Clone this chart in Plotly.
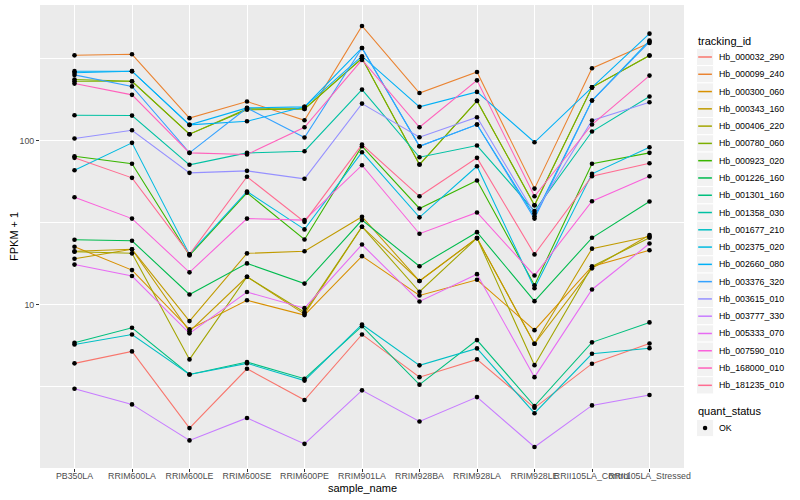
import plotly.graph_objects as go

samples = ["PB350LA", "RRIM600LA", "RRIM600LE", "RRIM600SE", "RRIM600PE", "RRIM901LA",
           "RRIM928BA", "RRIM928LA", "RRIM928LE", "RRII105LA_Control", "RRII105LA_Stressed"]

tracking_ids = ["Hb_000032_290", "Hb_000099_240", "Hb_000300_060", "Hb_000343_160", "Hb_000406_220",
                "Hb_000780_060", "Hb_000923_020", "Hb_001226_160", "Hb_001301_160", "Hb_001358_030",
                "Hb_001677_210", "Hb_002375_020", "Hb_002660_080", "Hb_003376_320", "Hb_003615_010",
                "Hb_003777_330", "Hb_005333_070", "Hb_007590_010", "Hb_168000_010", "Hb_181235_010"]

colors = ["#F8766D", "#EA8331", "#D89000", "#C09B00", "#A3A500", "#7CAE00", "#39B600", "#00BB4E",
          "#00BF7D", "#00C1A3", "#00BFC4", "#00BAE0", "#00B0F6", "#35A2FF", "#9590FF", "#C77CFF",
          "#E76BF3", "#FA62DB", "#FF62BC", "#FF6C91"]

quant_levels = ["OK"]

# FPKM + 1 values per sample (order of `samples`)
hb_000032_290 = [4.37, 5.17, 1.76, 4.05, 2.61, 6.56, 3.60, 4.62, 2.34, 4.35, 5.78]
hb_000099_240 = [331, 336, 137, 173, 133, 500, 195, 262, 50.9, 276, 394]
hb_000300_060 = [22.5, 16.2, 7.04, 10.6, 8.61, 19.7, 11.35, 14.15, 6.97, 17.05, 21.4]
hb_000343_160 = [21.1, 21.7, 7.91, 20.5, 21.1, 34.3, 13.9, 25.4, 5.76, 21.9, 26.0]
hb_000343_160_b = [19.0, 21.7, 6.84, 14.75, 8.73, 29.8, 13.9, 25.4, 5.76, 16.6, 26.5]
hb_000406_220 = [20.96, 20.5, 4.62, 14.75, 8.97, 29.8, 11.95, 25.4, 4.26, 17.05, 25.5]
hb_000780_060 = [235.5, 230, 109.3, 156, 156, 317.6, 71.4, 174.6, 40.3, 211, 330]
hb_000780_060_b = [230, 230, 109.3, 154, 156, 317.6, 71.4, 174.6, 40.3, 211, 330]
hb_000923_020 = [80.2, 72.1, 19.9, 48.0, 24.9, 92.3, 38.5, 57.0, 13.1, 72.1, 84.1]
hb_001226_160 = [24.8, 24.45, 11.5, 17.8, 13.4, 32.7, 17.1, 27.6, 10.47, 25.5, 42.5]
hb_001301_160 = [5.84, 7.21, 3.74, 4.45, 3.52, 7.37, 3.24, 6.06, 2.40, 5.87, 7.77]
hb_001358_030 = [142.6, 142, 71.1, 84.1, 86.1, 204.6, 79.1, 93.2, 37.1, 113.5, 185.5]
hb_001677_210 = [5.70, 6.56, 3.74, 4.37, 3.43, 7.55, 4.25, 5.39, 2.17, 5.00, 5.41]
hb_002375_020 = [65.9, 96.8, 20.2, 48.9, 28.7, 84.9, 34.0, 69.7, 12.57, 62.6, 91.0]
hb_002660_080 = [265, 265, 124.7, 131, 160.5, 327, 160.5, 198, 97.6, 211, 449]
hb_002660_080_b = [259, 265, 124.7, 158.2, 160.5, 367, 92.3, 125.2, 34.5, 175.4, 407]
hb_003376_320 = [251.5, 214, 84.1, 158, 104.3, 367, 92.3, 125.2, 33.4, 175.4, 400]
hb_003615_010 = [102.8, 115.6, 63.5, 65.3, 58.4, 168, 104.7, 138.7, 35.9, 132.4, 171.2]
hb_003777_330 = [3.06, 2.455, 1.48, 2.03, 1.41, 2.99, 1.93, 2.72, 1.35, 2.42, 2.80]
hb_005333_070 = [17.5, 14.9, 6.66, 11.9, 9.49, 23.2, 10.43, 15.3, 3.60, 12.34, 23.55]
hb_007590_010 = [45.1, 33.4, 15.7, 33.4, 32.7, 70.7, 27.0, 36.4, 15.0, 42.6, 60.6]
hb_168000_010 = [222.6, 190, 84.1, 82.2, 120.5, 310.5, 120.5, 233, 45.7, 125.2, 249]
hb_181235_010 = [78.4, 59.2, 20.2, 60.1, 31.9, 94.5, 45.7, 78.4, 20.2, 60.6, 72.7]

series = {
    "Hb_000032_290": [hb_000032_290],
    "Hb_000099_240": [hb_000099_240],
    "Hb_000300_060": [hb_000300_060],
    "Hb_000343_160": [hb_000343_160, hb_000343_160_b],
    "Hb_000406_220": [hb_000406_220],
    "Hb_000780_060": [hb_000780_060, hb_000780_060_b],
    "Hb_000923_020": [hb_000923_020],
    "Hb_001226_160": [hb_001226_160],
    "Hb_001301_160": [hb_001301_160],
    "Hb_001358_030": [hb_001358_030],
    "Hb_001677_210": [hb_001677_210],
    "Hb_002375_020": [hb_002375_020],
    "Hb_002660_080": [hb_002660_080, hb_002660_080_b],
    "Hb_003376_320": [hb_003376_320],
    "Hb_003615_010": [hb_003615_010],
    "Hb_003777_330": [hb_003777_330],
    "Hb_005333_070": [hb_005333_070],
    "Hb_007590_010": [hb_007590_010],
    "Hb_168000_010": [hb_168000_010],
    "Hb_181235_010": [hb_181235_010],
}

W, H = 800, 500
ML, MR, MT, MB = 40, 116, 5, 32
PW, PH = W - ML - MR, H - MT - MB


def px(x):
    return (x - ML) / PW


def py(y):
    return (H - MB - y) / PH


fig = go.Figure()
all_x, all_y = [], []
for tid, col in zip(tracking_ids, colors):
    for vals in series[tid]:
        fig.add_trace(go.Scatter(
            x=samples, y=vals, mode="lines", name=tid, legendgroup=tid, showlegend=False,
            line=dict(color=col, width=1.07), hoverinfo="skip"))
        all_x += samples
        all_y += vals

fig.add_trace(go.Scatter(
    x=all_x, y=all_y, mode="markers", name=quant_levels[0], showlegend=False,
    marker=dict(color="black", size=4.6, symbol="circle"), hoverinfo="skip"))

font_family = "Liberation Sans, Arial, sans-serif"
shapes, annotations = [], []

# ggplot-style legend: tracking_id
annotations.append(dict(text="tracking_id", x=px(696), y=py(40.7), xref="paper", yref="paper",
                        xanchor="left", yanchor="middle", showarrow=False,
                        font=dict(size=11, color="black")))
step = 17.28
for i, (tid, col) in enumerate(zip(tracking_ids, colors)):
    cy = 57.0 + step * i
    shapes.append(dict(type="rect", xref="paper", yref="paper",
                       x0=px(696.4), x1=px(713.7), y0=py(cy - step / 2), y1=py(cy + step / 2),
                       fillcolor="#F2F2F2", line=dict(color="white", width=1), layer="above"))
    shapes.append(dict(type="line", xref="paper", yref="paper",
                       x0=px(698.2), x1=px(711.9), y0=py(cy), y1=py(cy),
                       line=dict(color=col, width=1.5), layer="above"))
    annotations.append(dict(text=tid, x=px(716.5), y=py(cy), xref="paper", yref="paper",
                            xanchor="left", yanchor="middle", showarrow=False,
                            font=dict(size=8.8, color="black")))

# legend: quant_status
annotations.append(dict(text="quant_status", x=px(696), y=py(411), xref="paper", yref="paper",
                        xanchor="left", yanchor="middle", showarrow=False,
                        font=dict(size=11, color="black")))
cy = 428.0
shapes.append(dict(type="rect", xref="paper", yref="paper",
                   x0=px(696.4), x1=px(713.7), y0=py(cy - step / 2), y1=py(cy + step / 2),
                   fillcolor="#F2F2F2", line=dict(color="white", width=1), layer="above"))
shapes.append(dict(type="circle", xref="paper", yref="paper",
                   x0=px(702.8), x1=px(707.3), y0=py(cy - 2.25), y1=py(cy + 2.25),
                   fillcolor="black", line=dict(color="black", width=0), layer="above"))
annotations.append(dict(text=quant_levels[0], x=px(716.5), y=py(cy), xref="paper", yref="paper",
                        xanchor="left", yanchor="middle", showarrow=False,
                        font=dict(size=8.8, color="black")))

# axis titles
annotations.append(dict(text="sample_name", x=px((ML + W - MR) / 2), y=py(488), xref="paper",
                        yref="paper", xanchor="center", yanchor="middle", showarrow=False,
                        font=dict(size=11, color="black")))
annotations.append(dict(text="FPKM + 1", x=px(13.5), y=py(MT + PH / 2), xref="paper",
                        yref="paper", xanchor="center", yanchor="middle", showarrow=False,
                        textangle=-90, font=dict(size=11, color="black")))

fig.update_layout(
    width=W, height=H,
    margin=dict(l=ML, r=MR, t=MT, b=MB),
    paper_bgcolor="white", plot_bgcolor="#EBEBEB",
    font=dict(family=font_family, color="black"),
    showlegend=False,
    shapes=shapes, annotations=annotations,
    xaxis=dict(
        type="category", categoryorder="array", categoryarray=samples,
        range=[-0.6, 10.6], showgrid=True, gridcolor="white", gridwidth=1.07,
        ticks="outside", ticklen=3, tickcolor="#333333", tickangle=0,
        ticklabelstandoff=-4,
        tickfont=dict(size=8.8, color="#4D4D4D"), zeroline=False, showline=False,
        automargin=False),
    yaxis=dict(
        type="log", range=[0.002, 2.827], tickmode="array", tickvals=[10, 100],
        ticktext=["10", "100"], showgrid=True, gridcolor="white", gridwidth=1.07,
        minor=dict(tickmode="array", tickvals=[3.1623, 31.623, 316.23], showgrid=True,
                   gridcolor="white", gridwidth=0.53, ticks=""),
        ticks="outside", ticklen=3, tickcolor="#333333",
        tickfont=dict(size=8.8, color="#4D4D4D"), zeroline=False, showline=False,
        automargin=False),
)

fig.write_html("out.html", config={"displayModeBar": False},
               post_script="document.body.style.margin='0px';")
